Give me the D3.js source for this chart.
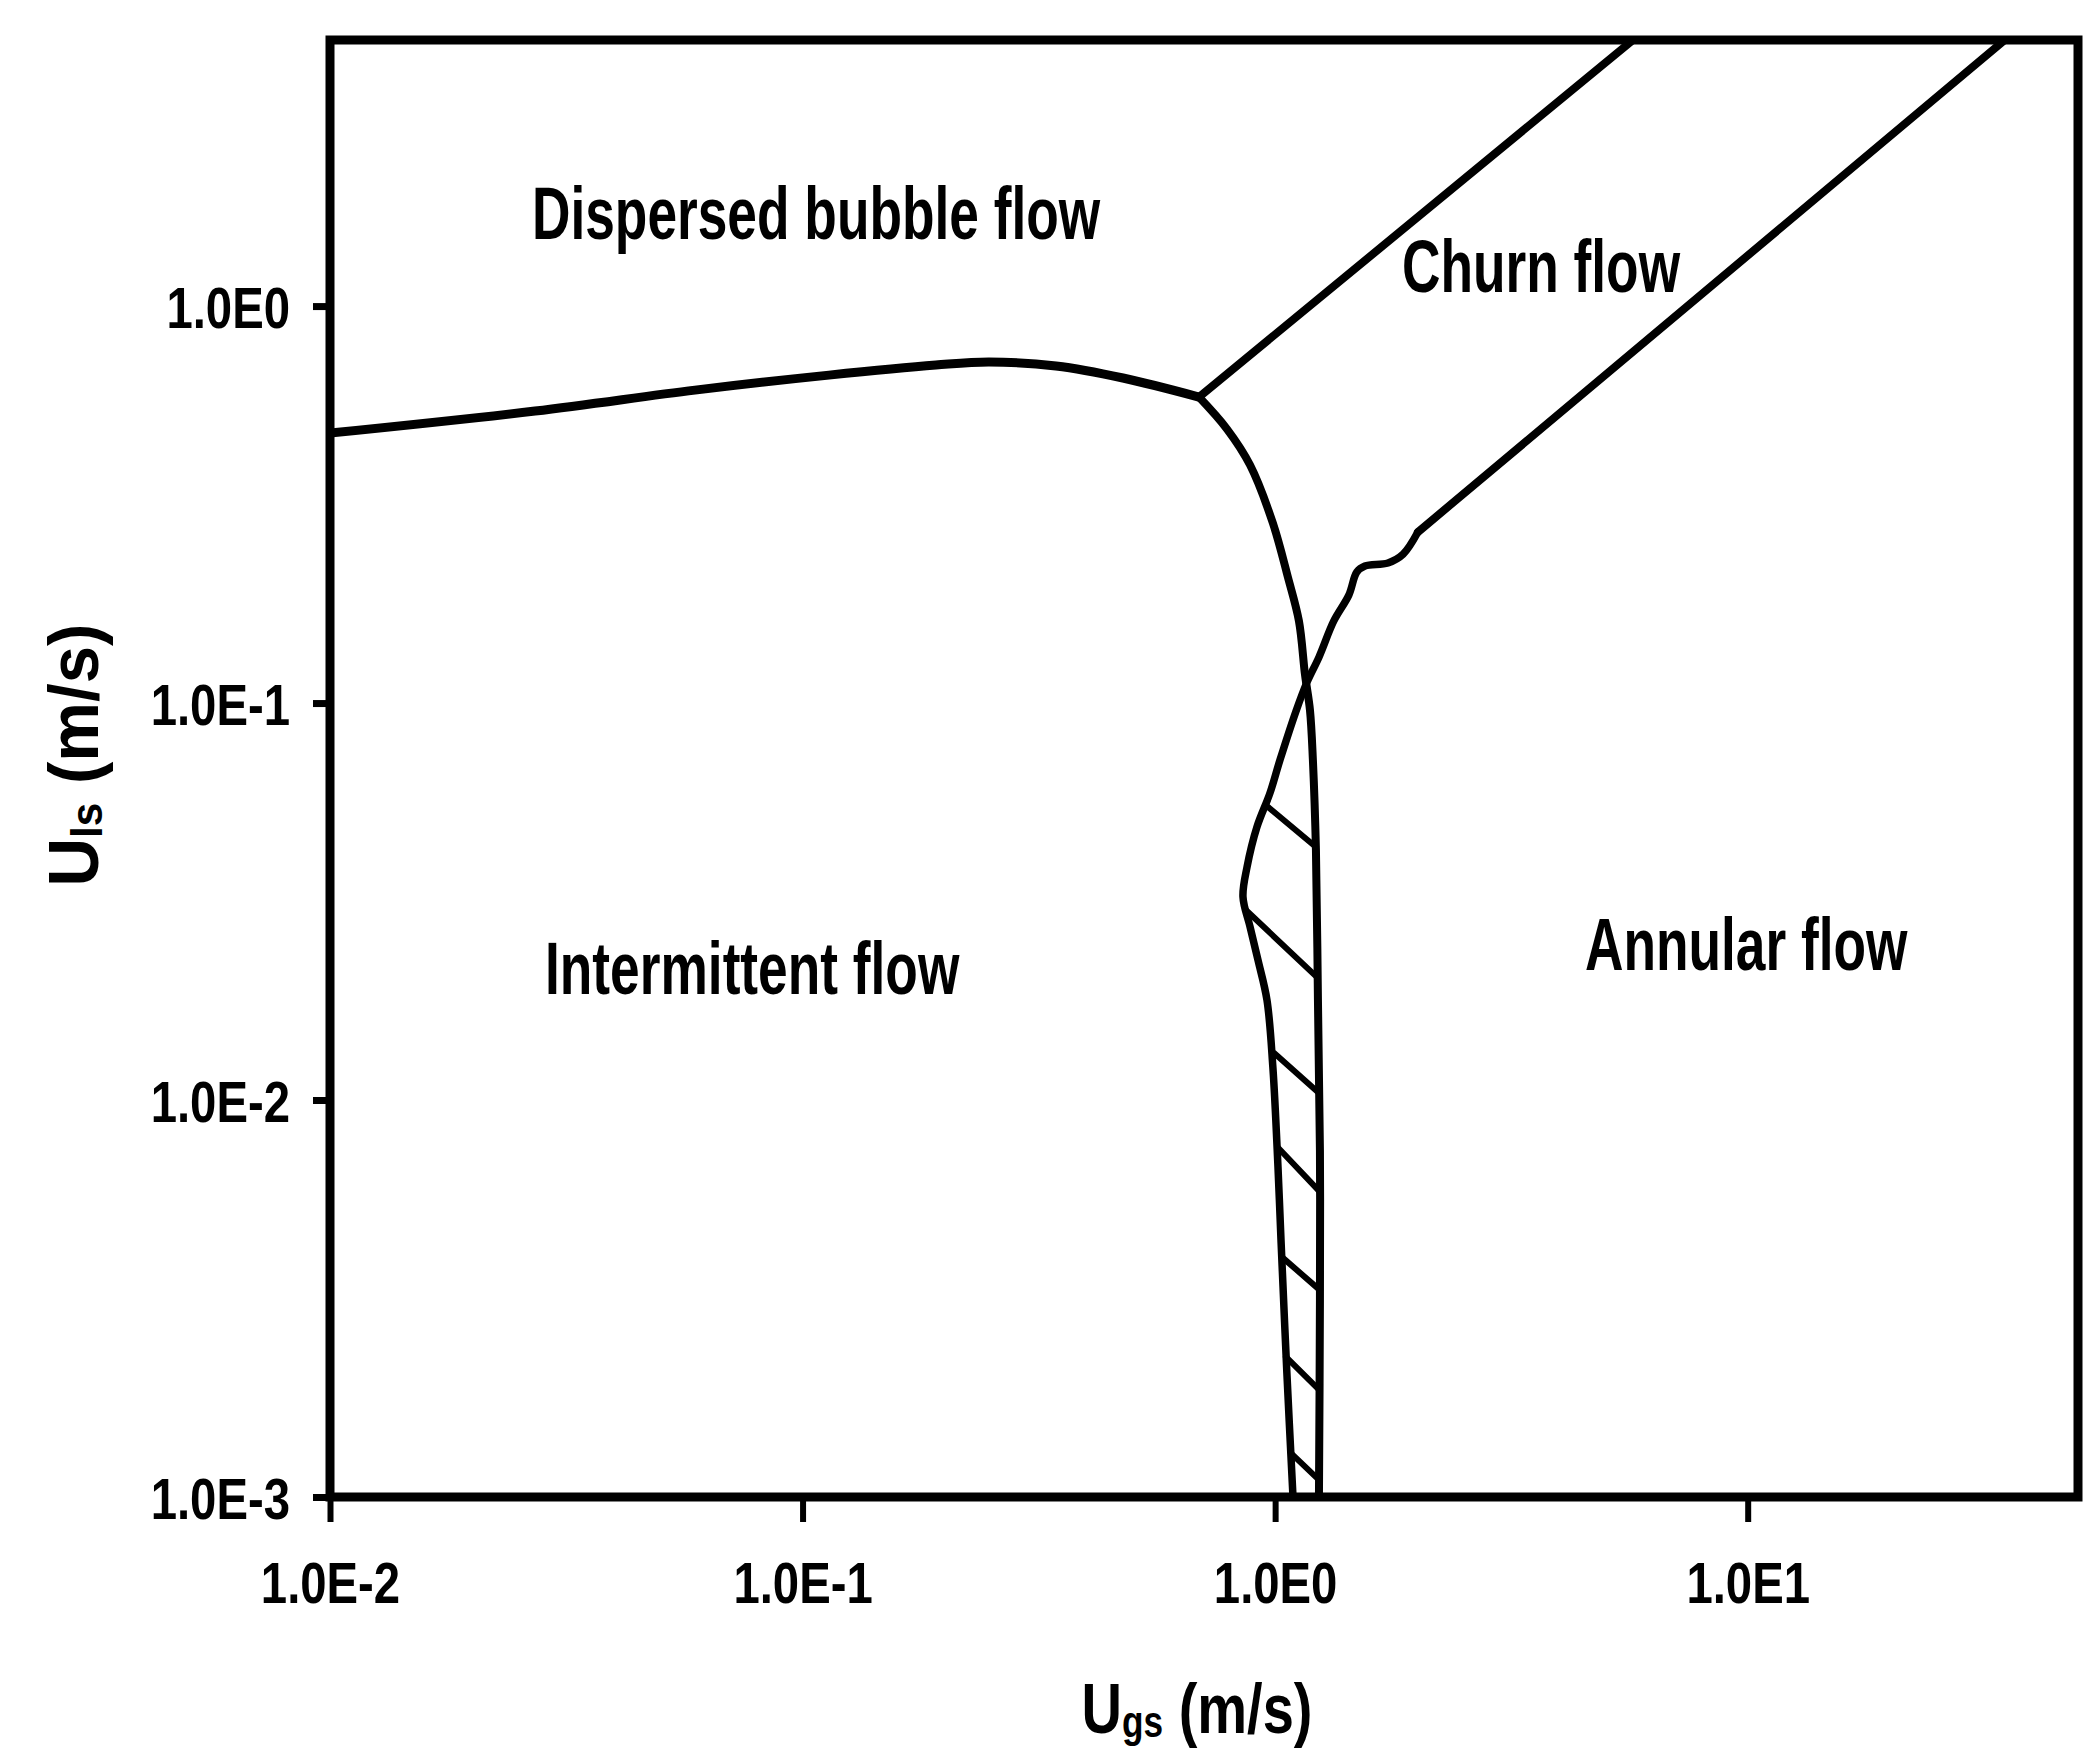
<!DOCTYPE html>
<html><head><meta charset="utf-8">
<script src="https://cdn.jsdelivr.net/npm/d3@7"></script>
<style>
html,body{margin:0;padding:0;background:#fff;}
svg{display:block;}
text{font-family:"Liberation Sans",Arial,Helvetica,sans-serif;font-weight:bold;fill:#000;}
</style>
</head><body>
<svg id="chart" width="2096" height="1748"></svg>
<script>
// ---------- data ----------
const xDomain = [0.01, 50];
const yDomain = [0.001, 4.68];
const xTicks = [0.01, 0.1, 1, 10];
const xTickLabels = ["1.0E-2", "1.0E-1", "1.0E0", "1.0E1"];
const yTicks = [0.001, 0.01, 0.1, 1];
const yTickLabels = ["1.0E-3", "1.0E-2", "1.0E-1", "1.0E0"];

// boundary curves as [Ugs, Uls] pairs (m/s)
const dispersedBoundary = [[0.01,0.4786],[0.02716,0.5439],[0.0592,0.6142],[0.1137,0.670],[0.1915,0.7101],[0.2479,0.7229],[0.3438,0.7063],[0.4764,0.6588],[0.690,0.590]];
const intermittentBoundary = [[0.690,0.590],[0.791,0.490],[0.885,0.3977],[0.989,0.284],[1.064,0.2077],[1.123,0.1609],[1.157,0.1176],[1.185,0.0960],[1.202,0.0719],[1.220,0.0426],[1.232,0.01786],[1.244,0.00748],[1.244,0.00313],[1.238,0.001]];
const churnUpperBoundary = [[0.690,0.590],[5.72,4.68]];
const annularUpperBoundary = [[35.0,4.68],[2.005,0.2696]];
const annularLowerBoundary = [[2.005,0.2696],[1.865,0.237],[1.733,0.2253],[1.549,0.2214],[1.489,0.2138],[1.432,0.187],[1.331,0.161],[1.238,0.1305],[1.168,0.1129],[1.107,0.0954],[1.024,0.0719],[0.975,0.0593],[0.915,0.0487],[0.872,0.0386],[0.855,0.0325],[0.885,0.0273],[0.920,0.0225],[0.961,0.01786],[0.989,0.01211],[1.014,0.00678],[1.029,0.00444],[1.059,0.00205],[1.091,0.001]];
// hatching of the transition zone: [Ugs1, Uls1, Ugs2, Uls2]
const hatchSegments = [[0.956,0.0553,1.220,0.0434],[0.867,0.0301,1.226,0.0204],[0.995,0.01313,1.238,0.01041],[1.016,0.00757,1.244,0.00587],[1.034,0.00402,1.244,0.00332],[1.054,0.002254,1.241,0.00186],[1.080,0.00129,1.238,0.001104]];

const regionLabels = ["Dispersed bubble flow", "Churn flow", "Intermittent flow", "Annular flow"];
const regionLabelUgs = [0.02675, 1.855, 0.02851, 4.524];
const regionLabelUls = [1.475, 1.085, 0.01849, 0.02126];

// ---------- layout ----------
const W = 2096, H = 1748;
const plot = {left: 330, right: 2078, top: 40, bottom: 1497};
const x = d3.scaleLog().domain(xDomain).range([plot.left, plot.right]);
const y = d3.scaleLog().domain(yDomain).range([plot.bottom, plot.top]);

const svg = d3.select("#chart");
svg.append("rect").attr("width", W).attr("height", H).attr("fill", "#fff");

svg.append("defs").append("clipPath").attr("id", "clip").append("rect")
  .attr("x", plot.left).attr("y", plot.top)
  .attr("width", plot.right - plot.left).attr("height", plot.bottom - plot.top);

const g = svg.append("g").attr("clip-path", "url(#clip)");

const smooth = d3.line().x(d => x(d[0])).y(d => y(d[1])).curve(d3.curveCatmullRom.alpha(0.5));
const straight = d3.line().x(d => x(d[0])).y(d => y(d[1]));

function curve(data, gen, w) {
  g.append("path").attr("d", gen(data)).attr("fill", "none")
    .attr("stroke", "#000").attr("stroke-width", w)
    .attr("stroke-linejoin", "round").attr("stroke-linecap", "round");
}
curve(dispersedBoundary, smooth, 9);
curve(intermittentBoundary, smooth, 8);
curve(churnUpperBoundary, straight, 8);
curve(annularUpperBoundary, straight, 8);
curve(annularLowerBoundary, smooth, 7.5);

g.selectAll("line.hatch").data(hatchSegments).join("line").attr("class", "hatch")
  .attr("x1", d => x(d[0])).attr("y1", d => y(d[1]))
  .attr("x2", d => x(d[2])).attr("y2", d => y(d[3]))
  .attr("stroke", "#000").attr("stroke-width", 6).attr("stroke-linecap", "round");

// ---------- axes ----------
const xAxis = d3.axisBottom(x).tickValues(xTicks).tickFormat((d, i) => xTickLabels[i])
  .tickSizeInner(25).tickSizeOuter(0);
const gx = svg.append("g").attr("transform", `translate(0,${plot.bottom})`).call(xAxis);
gx.select(".domain").remove();
gx.selectAll(".tick line").attr("stroke", "#000").attr("stroke-width", 6);
gx.selectAll(".tick text").attr("x", null).attr("y", null).attr("dy", null)
  .attr("font-size", 57).attr("text-anchor", "middle")
  .attr("transform", "translate(0,106) scale(0.83,1)");

const yAxis = d3.axisLeft(y).tickValues(yTicks).tickFormat((d, i) => yTickLabels[i])
  .tickSizeInner(17).tickSizeOuter(0);
const gy = svg.append("g").attr("transform", `translate(${plot.left},0)`).call(yAxis);
gy.select(".domain").remove();
gy.selectAll(".tick line").attr("stroke", "#000").attr("stroke-width", 7);
gy.selectAll(".tick text").attr("x", null).attr("y", null).attr("dy", null)
  .attr("font-size", 57).attr("text-anchor", "end")
  .attr("transform", "translate(-40,21) scale(0.83,1)");

// frame
svg.append("rect").attr("x", plot.left).attr("y", plot.top)
  .attr("width", plot.right - plot.left).attr("height", plot.bottom - plot.top)
  .attr("fill", "none").attr("stroke", "#000").attr("stroke-width", 9);

// ---------- titles ----------
const xt = svg.append("text").attr("text-anchor", "middle").attr("font-size", 70)
  .attr("transform", "translate(1197,1733) scale(0.8,1)");
xt.append("tspan").text("U");
xt.append("tspan").attr("font-size", 44).attr("dy", 4).text("gs");
xt.append("tspan").attr("dy", -4).text(" (m/s)");

const yt = svg.append("text").attr("text-anchor", "middle").attr("font-size", 70)
  .attr("transform", "translate(98,755) rotate(-90) scale(0.96,1)");
yt.append("tspan").text("U");
yt.append("tspan").attr("font-size", 44).attr("dy", 4).text("ls");
yt.append("tspan").attr("dy", -4).text(" (m/s)");

// ---------- region labels ----------
svg.selectAll("text.region").data(regionLabels).join("text").attr("class", "region")
  .attr("font-size", 74).attr("text-anchor", "start")
  .attr("transform", (d, i) => `translate(${x(regionLabelUgs[i])},${y(regionLabelUls[i])}) scale(0.72,1)`)
  .text(d => d);
</script>
</body></html>
